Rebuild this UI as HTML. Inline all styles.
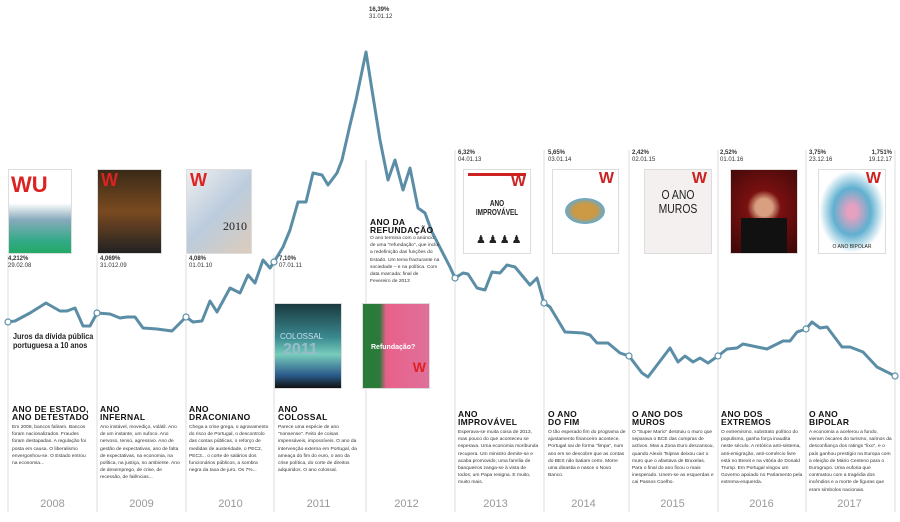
<!DOCTYPE html>
<html><head><meta charset="utf-8"><style>
body{margin:0;width:900px;height:522px;background:#fff;position:relative;overflow:hidden;font-family:"Liberation Sans",sans-serif;color:#222}
.a{position:absolute}
.v{font-size:6px;line-height:7px;color:#333}
.v b{font-weight:bold}
.h{font-size:8.5px;font-weight:bold;line-height:8px;letter-spacing:.3px;color:#111}
.t{font-size:4.9px;line-height:7.2px;color:#333;margin-top:3px}
.y{font-size:11px;color:#999;width:89px;text-align:center;top:498px}
.c{border:1px solid #ddd;overflow:hidden}
</style></head><body>
<svg class="a" style="left:0;top:0" width="900" height="522">
<g stroke="#ddd" stroke-width="1">
<line x1="8" y1="255" x2="8" y2="512"/><line x1="97" y1="255" x2="97" y2="512"/><line x1="186" y1="255" x2="186" y2="512"/><line x1="274" y1="255" x2="274" y2="512"/><line x1="366" y1="160" x2="366" y2="512"/><line x1="455" y1="150" x2="455" y2="512"/><line x1="544" y1="150" x2="544" y2="512"/><line x1="629" y1="150" x2="629" y2="512"/><line x1="718" y1="150" x2="718" y2="512"/><line x1="806" y1="150" x2="806" y2="512"/><line x1="895" y1="150" x2="895" y2="512"/>
</g>
<polyline fill="none" stroke="#5b8ea6" stroke-width="3" stroke-linejoin="round" points="8,322 15,321 30,313 46,303 60,311 67,311 75,308 83,326 90,326 97,313 110,314 120,318 127,317 135,317 143,328 157,329 172,331 186,317 193,322 202,321 210,301 217,312 230,288 240,293 248,275 255,283 263,260 270,268 274,262 283,247 290,230 298,202 306,202 313,173 322,175 328,185 337,173 342,160 350,125 356,100 366,52 372,90 380,140 388,180 395,160 403,190 410,168 418,208 425,213 432,232 450,267 455,278 463,273 468,274 477,288 485,290 492,272 500,273 507,265 515,267 530,285 537,278 544,303 550,307 565,332 583,333 590,335 597,343 608,343 620,353 629,356 642,373 648,377 670,348 678,362 685,356 693,362 700,358 708,363 718,356 727,349 737,348 743,344 767,349 783,341 790,341 797,332 806,329 812,322 820,328 827,327 842,347 850,347 863,352 877,367 895,376"/>
<g fill="#fff" stroke="#5b8ea6" stroke-width="1.2">
<circle cx="8" cy="322" r="3"/><circle cx="97" cy="313" r="3"/><circle cx="186" cy="317" r="3"/><circle cx="274" cy="262" r="3"/><circle cx="455" cy="278" r="3"/><circle cx="544" cy="303" r="3"/><circle cx="629" cy="356" r="3"/><circle cx="718" cy="356" r="3"/><circle cx="806" cy="329" r="3"/><circle cx="895" cy="376" r="3"/>
</g>
</svg>
<div class="a" style="left:13,top:0"></div>
<div class="a" style="left:13px;top:332px;font-size:8.5px;font-weight:bold;line-height:9px;transform:scaleX(.85);transform-origin:left">Juros da dívida pública<br>portuguesa a 10 anos</div>
<!-- covers -->
<div class="a c" style="left:8px;top:169px;width:62px;height:83px;background:linear-gradient(#fff 40%,#8ab 60%,#3a8 85%,#2a6)"><div style="color:#d22;font-weight:bold;font-size:22px;margin:2px">WU</div></div>
<div class="a c" style="left:97px;top:169px;width:63px;height:83px;background:linear-gradient(#3a2a18,#7a4a20 50%,#222)"><div style="color:#d22;font-weight:bold;font-size:18px;margin:0 3px">W</div></div>
<div class="a c" style="left:186px;top:169px;width:64px;height:83px;background:linear-gradient(135deg,#eee,#bcd 50%,#dcb)"><div style="color:#d22;font-weight:bold;font-size:18px;margin:0 3px">W</div><div style="font-family:'Liberation Serif';font-size:12px;text-align:right;margin:28px 4px 0">2010</div></div>
<div class="a c" style="left:274px;top:303px;width:66px;height:84px;background:linear-gradient(#1a3a40,#3a8a90 40%,#7cb 60%,#2a5a8a 85%,#111)"><div style="color:#cde;font-size:8px;margin:28px 0 0 5px">COLOSSAL</div><div style="color:#9bc;font-size:16px;font-weight:bold;margin-left:8px">2011</div></div>
<div class="a c" style="left:362px;top:303px;width:66px;height:84px;background:linear-gradient(90deg,#2a7a3a 25%,#e8608a 35%,#e0709a)"><div style="color:#fff;font-size:7px;font-weight:bold;margin:40px 0 0 8px">Refundação?</div><div style="color:#d22;font-weight:bold;font-size:14px;text-align:right;margin:8px 3px 0">W</div></div>
<div class="a c" style="left:463px;top:169px;width:66px;height:83px;background:#fff"><div style="border-top:3px solid #c22;margin:3px 4px 0"></div><div style="color:#c22;font-weight:bold;font-size:16px;text-align:right;margin:-3px 4px 0">W</div><div style="font-size:8px;font-weight:bold;text-align:center;margin-top:8px;transform:scaleX(.8)">ANO IMPROVÁVEL</div><div style="font-size:11px;margin:16px 0 0 12px;letter-spacing:2px">♟♟♟♟</div></div>
<div class="a c" style="left:552px;top:169px;width:65px;height:83px;background:#fff"><div style="color:#c22;font-weight:bold;font-size:16px;text-align:right;margin:0 4px">W</div><div style="margin:10px 0 0 12px;width:40px;height:26px;border-radius:50%;background:radial-gradient(#c94 40%,#6ac 70%,#fff 72%)"></div></div>
<div class="a c" style="left:644px;top:169px;width:66px;height:83px;background:#f4f0f0"><div style="color:#c22;font-weight:bold;font-size:16px;text-align:right;margin:0 4px">W</div><div style="font-size:13px;text-align:center;line-height:14px;transform:scaleX(.8)">O ANO<br>MUROS</div></div>
<div class="a c" style="left:730px;top:169px;width:66px;height:83px;background:radial-gradient(circle at 50% 45%,#d8a080 15%,#7a1010 30%,#3a0808)"><div style="margin:48px 0 0 10px;width:46px;height:35px;background:#111"></div></div>
<div class="a c" style="left:818px;top:169px;width:66px;height:83px;background:radial-gradient(#e8a0c0 10%,#60b0d0 40%,#fff 70%)"><div style="color:#c22;font-weight:bold;font-size:16px;text-align:right;margin:0 4px">W</div><div style="font-size:5px;text-align:center;margin-top:56px">O ANO BIPOLAR</div></div>
<!-- value labels -->
<div class="a v" style="left:8px;top:256px"><b>4,212%</b><br>29.02.08</div>
<div class="a v" style="left:100px;top:256px"><b>4,069%</b><br>31.012.09</div>
<div class="a v" style="left:189px;top:256px"><b>4,08%</b><br>01.01.10</div>
<div class="a v" style="left:279px;top:256px"><b>7,10%</b><br>07.01.11</div>
<div class="a v" style="left:369px;top:7px"><b>16,39%</b><br>31.01.12</div>
<div class="a v" style="left:458px;top:150px"><b>6,32%</b><br>04.01.13</div>
<div class="a v" style="left:548px;top:150px"><b>5,65%</b><br>03.01.14</div>
<div class="a v" style="left:632px;top:150px"><b>2,42%</b><br>02.01.15</div>
<div class="a v" style="left:720px;top:150px"><b>2,52%</b><br>01.01.16</div>
<div class="a v" style="left:809px;top:150px"><b>3,75%</b><br>23.12.16</div>
<div class="a v" style="left:860px;top:150px;text-align:right;width:32px"><b>1,751%</b><br>19.12.17</div>
<!-- 2012 note -->
<div class="a" style="left:370px;top:218px;width:70px"><div class="h">ANO DA<br>REFUNDAÇÃO</div><div class="t" style="margin-top:1px">O ano termina com o anúncio de uma "refundação", que inclui a redefinição das funções do Estado. Um tema fracturante na sociedade – e na política. Com data marcada: final de Fevereiro de 2013</div></div>
<!-- year blocks -->
<div class="a" style="left:12px;top:405px;width:80px"><div class="h">ANO DE ESTADO,<br>ANO DETESTADO</div><div class="t">Em 2008, bancos faliram. Bancos foram nacionalizados. Fraudes foram destapadas. A regulação foi posta em causa. O liberalismo envergonhou-se. O Estado entrou na economia...</div></div>
<div class="a" style="left:100px;top:405px;width:82px"><div class="h">ANO<br>INFERNAL</div><div class="t">Ano instável, movediço, volátil. Ano de um instante, um sufoco. Ano nervoso, tenso, agressivo. Ano de gestão de expectativas, ano de falta de expectativas, na economia, na política, na justiça, no ambiente. Ano de desemprego, de crise, de recessão, de falências...</div></div>
<div class="a" style="left:189px;top:405px;width:82px"><div class="h">ANO<br>DRACONIANO</div><div class="t">Chega a crise grega, o agravamento do risco de Portugal, o descontrolo das contas públicas, o reforço de medidas de austeridade, o PEC2, PEC3... o corte de salários dos funcionários públicos, a sombra negra da taxa de juro. Os 7%...</div></div>
<div class="a" style="left:278px;top:405px;width:82px"><div class="h">ANO<br>COLOSSAL</div><div class="t">Parece uma espécie de ano "nonsense". Feito de coisas impensáveis, impossíveis. O ano da intervenção externa em Portugal, da ameaça do fim do euro, o ano da crise política, do corte de direitos adquiridos. O ano colossal.</div></div>
<div class="a" style="left:458px;top:410px;width:82px"><div class="h">ANO<br>IMPROVÁVEL</div><div class="t">Esperava-se muita coisa de 2013, mas pouco do que aconteceu se esperava. Uma economia moribunda recupera. Um ministro demite-se e acaba promovido; uma família de banqueiros zanga-se à vista de todos; um Papa resigna. E muito, muito mais.</div></div>
<div class="a" style="left:548px;top:410px;width:78px"><div class="h">O ANO<br>DO FIM</div><div class="t">O tão esperado fim do programa de ajustamento financeiro acontece. Portugal sai de forma "limpa", num ano em se descobre que as contas do BES não batiam certo. Morre uma dinastia e nasce o Novo Banco.</div></div>
<div class="a" style="left:632px;top:410px;width:82px"><div class="h">O ANO DOS<br>MUROS</div><div class="t">O "Super Mario" destruiu o muro que separava o BCE das compras de activos. Mas a Zona Euro descansou, quando Alexis Tsipras deixou cair o muro que o afastava de Bruxelas. Para o final do ano ficou o mais inesperado. Unem-se as esquerdas e cai Passos Coelho.</div></div>
<div class="a" style="left:721px;top:410px;width:82px"><div class="h">ANO DOS<br>EXTREMOS</div><div class="t">O extremismo, substrato político do populismo, ganha força inaudita neste século. A retórica anti-sistema, anti-emigração, anti-comércio livre está no Brexit e na vitória de Donald Trump. Em Portugal vingou um Governo apoiado no Parlamento pela extrema-esquerda.</div></div>
<div class="a" style="left:809px;top:410px;width:84px"><div class="h">O ANO<br>BIPOLAR</div><div class="t">A economia a acelerou a fundo, vieram óscares do turismo, saímos da desconfiança dos ratings "lixo", e o país ganhou prestígio na Europa com a eleição de Mário Centeno para o Eurogrupo. Uma euforia que contrastou com a tragédia dos incêndios e a morte de figuras que eram símbolos nacionais.</div></div>
<!-- years -->
<div class="a y" style="left:8px">2008</div><div class="a y" style="left:97px">2009</div><div class="a y" style="left:186px">2010</div><div class="a y" style="left:274px">2011</div><div class="a y" style="left:362px">2012</div><div class="a y" style="left:451px">2013</div><div class="a y" style="left:539px">2014</div><div class="a y" style="left:628px">2015</div><div class="a y" style="left:717px">2016</div><div class="a y" style="left:805px">2017</div>
</body></html>
